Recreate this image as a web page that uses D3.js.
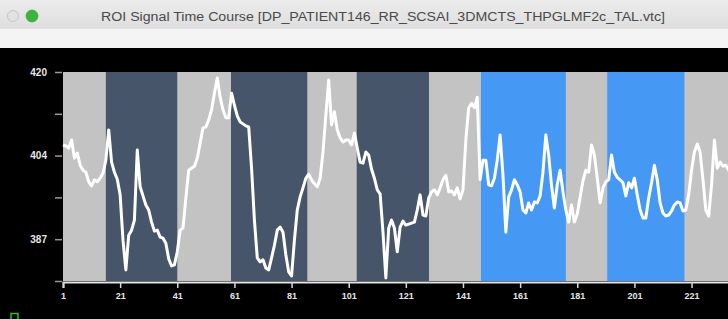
<!DOCTYPE html>
<html>
<head>
<meta charset="utf-8">
<script src="https://cdn.jsdelivr.net/npm/d3@7"></script>
<style>
  html, body { margin: 0; padding: 0; background: #000; overflow: hidden; }
  svg { display: block; }
</style>
</head>
<body>
<div id="chart"></div>
<script>
// ---- data ----
const windowTitle = "ROI Signal Time Course  [DP_PATIENT146_RR_SCSAI_3DMCTS_THPGLMF2c_TAL.vtc]";

const signal = [
  405.5, 405.3, 404.9, 406.5, 402.9, 403.9, 401.5, 400.5, 400.1, 398.2,
  397.4, 398.6, 398.2, 398.9, 399.9, 402.5, 408.5, 402.1, 400.1, 398.7,
  395.6, 386.6, 380.7, 387.6, 388.6, 390.6, 404.5, 397.2, 395.4, 393.6,
  392.6, 390.2, 388.4, 388.6, 387.2, 387.0, 386.0, 382.9, 381.5, 381.7,
  384.3, 388.6, 389.0, 395.0, 400.5, 400.9, 401.3, 402.9, 405.9, 408.9,
  409.1, 410.5, 412.5, 415.8, 418.8, 415.0, 412.5, 410.9, 410.9, 415.8,
  413.4, 411.3, 410.1, 409.7, 409.3, 409.1, 400.9, 390.6, 383.1, 382.3,
  382.7, 381.1, 380.7, 383.1, 385.6, 388.6, 389.2, 388.2, 383.7, 380.3,
  379.5, 386.6, 392.6, 395.2, 397.0, 398.9, 399.7, 398.6, 397.8, 397.2,
  398.9, 404.1, 411.5, 418.4, 409.5, 412.1, 408.5, 406.9, 406.1, 406.5,
  406.5, 405.5, 407.9, 404.9, 402.1, 401.9, 404.1, 403.5, 400.7, 398.9,
  396.6, 395.8, 388.2, 379.1, 389.0, 390.6, 389.0, 384.3, 389.2, 390.4,
  389.6, 389.8, 390.0, 390.2, 392.6, 395.6, 391.6, 391.4, 395.0, 396.2,
  396.6, 395.6, 397.0, 398.6, 399.5, 396.2, 396.4, 395.6, 397.0, 394.8,
  396.6, 406.5, 412.9, 413.8, 412.9, 415.0, 398.6, 402.5, 402.5, 397.6,
  397.4, 398.9, 402.5, 407.5, 399.5, 388.2, 395.2, 396.6, 398.6, 397.6,
  396.2, 392.6, 392.0, 394.0, 392.6, 394.2, 394.0, 395.4, 400.1, 407.5,
  403.5, 397.4, 393.0, 397.6, 400.5, 396.2, 392.6, 390.2, 393.6, 390.2,
  391.8, 395.2, 398.4, 400.5, 400.1, 405.5, 403.5, 398.9, 394.0, 397.0,
  398.2, 398.6, 403.5, 400.1, 399.1, 398.6, 398.0, 395.4, 398.0, 397.0,
  398.9, 395.6, 392.6, 391.0, 391.0, 395.0, 398.0, 401.5, 398.6, 394.0,
  392.0, 391.4, 391.6, 392.4, 393.6, 394.2, 394.0, 392.4, 392.6, 395.6,
  400.5, 404.1, 405.7, 404.1, 398.6, 392.6, 391.4, 397.6, 406.5, 400.9,
  402.1, 401.3, 401.5, 400.5, 400.9
];
const volumes = signal.map((d, i) => i + 1);

const blockStarts = [16, 59.8, 103.8, 147.3, 191.5];
const blockEnds   = [41, 86.5, 129.1, 177, 218.5];
const blockConditions = ["cond1", "cond1", "cond1", "cond2", "cond2"];

const xTickValues = [1, 21, 41, 61, 81, 101, 121, 141, 161, 181, 201, 221];
const yTickValues = [420, 411.7, 403.4, 395.1, 386.8, 378.5];
const yTickLabels = ["420", "", "404", "", "387", ""];
const xDomain = [1, 240];
const yDomain = [378.5, 420];

// ---- styles ----
const W = 728, H = 319;
const conditionColor = { cond1: "#46556a", cond2: "#4599f4" };
const restColor = "#c3c3c3";

const svg = d3.select("#chart").append("svg")
  .attr("width", W).attr("height", H);

// window chrome
const grad = svg.append("defs").append("linearGradient")
  .attr("id", "tb").attr("x1", 0).attr("y1", 0).attr("x2", 0).attr("y2", 1);
grad.append("stop").attr("offset", "0%").attr("stop-color", "#ececec");
grad.append("stop").attr("offset", "100%").attr("stop-color", "#dedede");

svg.append("rect").attr("x", 0).attr("y", 0).attr("width", W).attr("height", H).attr("fill", "#000");
svg.append("rect").attr("x", 0).attr("y", 0).attr("width", W).attr("height", 29).attr("fill", "url(#tb)");
svg.append("rect").attr("x", 0).attr("y", 29).attr("width", W).attr("height", 19).attr("fill", "#f4f4f4");
svg.append("line").attr("x1", 0).attr("x2", W).attr("y1", 28.5).attr("y2", 28.5).attr("stroke", "#e2e2e2");

svg.append("circle").attr("cx", 13).attr("cy", 16).attr("r", 5.5)
  .attr("fill", "#e2e2e2").attr("stroke", "#bdbdbd").attr("stroke-width", 0.8);
svg.append("circle").attr("cx", 32).attr("cy", 16).attr("r", 6)
  .attr("fill", "#39b73c").attr("stroke", "#2e9a31").attr("stroke-width", 0.6);

svg.append("text")
  .attr("x", 101).attr("y", 21)
  .attr("font-family", "'Liberation Sans', Arial, sans-serif")
  .attr("font-size", 12.5)
  .attr("fill", "#4a4a4a")
  .attr("textLength", 564)
  .attr("lengthAdjust", "spacingAndGlyphs")
  .text(windowTitle);

// scales
const x = d3.scaleLinear().domain(xDomain).range([63, 63 + (xDomain[1] - 1) * 2.857]);
const y = d3.scaleLinear().domain(yDomain).range([281, 72]);

// rest background
svg.append("rect")
  .attr("x", x(xDomain[0])).attr("y", y(yDomain[1]))
  .attr("width", x(xDomain[1]) - x(xDomain[0]))
  .attr("height", y(yDomain[0]) - y(yDomain[1]))
  .attr("fill", restColor);

// condition blocks
svg.append("g").selectAll("rect")
  .data(blockStarts.map((s, i) => ({ s, e: blockEnds[i], c: blockConditions[i] })))
  .join("rect")
  .attr("x", d => x(d.s))
  .attr("width", d => x(d.e) - x(d.s))
  .attr("y", y(yDomain[1]))
  .attr("height", y(yDomain[0]) - y(yDomain[1]))
  .attr("fill", d => conditionColor[d.c]);

// signal line
const line = d3.line().x((d, i) => x(volumes[i])).y(d => y(d));
svg.append("path")
  .datum(signal)
  .attr("d", line)
  .attr("fill", "none")
  .attr("stroke", "#ffffff")
  .attr("stroke-width", 3)
  .attr("stroke-linejoin", "round");

// y axis
const yAxis = svg.append("g")
  .attr("transform", "translate(62,0)")
  .call(d3.axisLeft(y).tickValues(yTickValues)
    .tickFormat((d, i) => yTickLabels[i]).tickSize(7).tickPadding(8));
yAxis.select(".domain").remove();
yAxis.selectAll(".tick line").attr("stroke", "#9a9a9a").attr("stroke-width", 1.5);
yAxis.selectAll(".tick text")
  .attr("fill", "#e6e6e6")
  .attr("font-family", "'Liberation Sans', Arial, sans-serif")
  .attr("font-weight", "bold")
  .attr("font-size", 10);

// x axis
const xAxis = svg.append("g")
  .attr("transform", "translate(0,282)")
  .call(d3.axisBottom(x).tickValues(xTickValues).tickSizeOuter(0).tickSize(6).tickPadding(5));
xAxis.select(".domain").attr("stroke", "#e4e4e4").attr("stroke-width", 2);
xAxis.selectAll(".tick line").attr("stroke", "#d8d8d8").attr("stroke-width", 1.5);
xAxis.selectAll(".tick text")
  .attr("fill", "#e6e6e6")
  .attr("font-family", "'Liberation Sans', Arial, sans-serif")
  .attr("font-weight", "bold")
  .attr("font-size", 9);

// small green marker bottom-left
svg.append("rect").attr("x", 11).attr("y", 313.5).attr("width", 7).attr("height", 8)
  .attr("fill", "none").attr("stroke", "#2fbf2f").attr("stroke-width", 1.5);
</script>
</body>
</html>
